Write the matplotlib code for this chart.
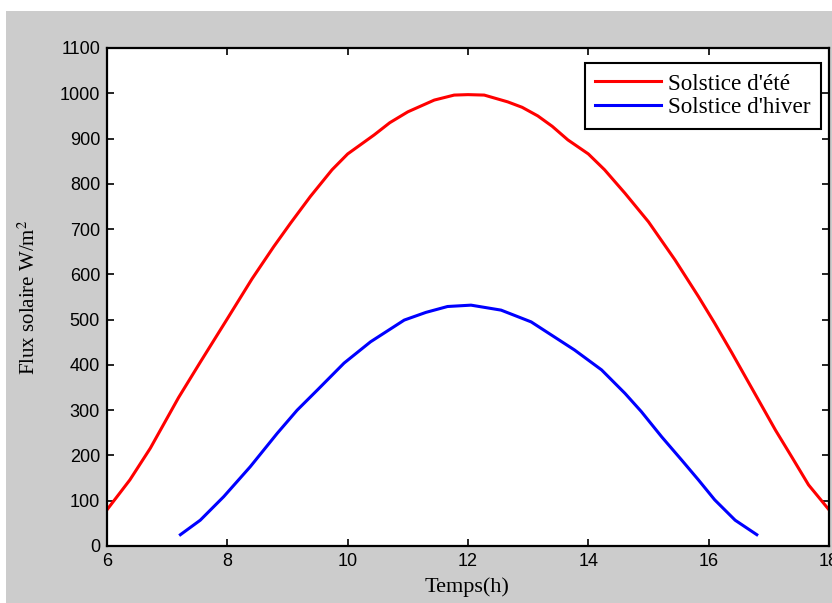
import matplotlib
matplotlib.use("Agg")
import matplotlib.pyplot as plt
from matplotlib.patches import Rectangle

# Solstice d'été (summer)
t_ete = [6.0, 6.38, 6.72, 7.19, 7.55, 8.0, 8.41, 8.77, 9.05, 9.38, 9.74, 10.0,
         10.44, 10.7, 11.0, 11.44, 11.77, 12.0, 12.27, 12.66, 12.9, 13.16, 13.4,
         13.66, 14.0, 14.27, 14.61, 15.0, 15.44, 15.83, 16.1, 16.38, 16.66, 16.83,
         17.11, 17.38, 17.66, 18.0]
flux_ete = [80, 146, 216, 328, 406, 502, 590, 661, 713, 772, 831, 866,
            908, 935, 959, 985, 996, 997, 996, 981, 969, 950, 927,
            897, 866, 831, 779, 716, 632, 551, 492, 428, 362, 322,
            256, 197, 135, 80]

# Solstice d'hiver (winter)
t_hiver = [7.22, 7.55, 7.94, 8.38, 8.83, 9.16, 9.5, 9.94, 10.38, 10.94, 11.3,
           11.66, 12.05, 12.55, 13.05, 13.77, 14.22, 14.61, 14.88, 15.22,
           15.55, 15.83, 16.1, 16.44, 16.8]
flux_hiver = [25, 57, 109, 175, 249, 300, 345, 404, 451, 499, 516,
              529, 532, 521, 495, 433, 389, 337, 297, 241,
              190, 146, 102, 57, 25]

xticks = [6, 8, 10, 12, 14, 16, 18]
yticks = list(range(0, 1101, 100))

plt.rcParams["mathtext.fontset"] = "stix"

fig = plt.figure(figsize=(8.32, 6.03), dpi=100, facecolor="white")
fig.patches.append(Rectangle((6 / 832, 0), 1, 1 - 11 / 603, transform=fig.transFigure,
                             facecolor="#cccccc", edgecolor="none", zorder=-1))

ax = fig.add_axes([107 / 832, 1 - 546 / 603, 722 / 832, 498 / 603])
ax.plot(t_ete, flux_ete, color="#ff0000", lw=2.2, label="Solstice d'été")
ax.plot(t_hiver, flux_hiver, color="#0000ff", lw=2.2, label="Solstice d'hiver")

ax.set_xlim(6, 18)
ax.set_ylim(0, 1100)
ax.set_xticks(xticks)
ax.set_yticks(yticks)
ax.tick_params(direction="in", length=5, width=1.2, top=True, right=True,
               labelsize=13, pad=5)
for lab in ax.get_xticklabels() + ax.get_yticklabels():
    lab.set_family("Liberation Sans")
for sp in ax.spines.values():
    sp.set_linewidth(1.6)

ax.set_xlabel("Temps(h)", family="Liberation Serif", fontsize=16)
ax.set_ylabel(r"Flux solaire W/m$^2$", family="Liberation Serif", fontsize=15)
ax.xaxis.set_label_coords((467 - 107) / 722, -(577 - 546) / 498)
ax.yaxis.set_label_coords(-(107 - 40) / 722, 0.5)

leg = ax.legend(loc="upper right", bbox_to_anchor=(0.9889, 0.970), borderaxespad=0,
                fancybox=False, edgecolor="black", framealpha=1,
                prop={"family": "Liberation Serif", "size": 16.7},
                handlelength=2.85, handletextpad=0.3, labelspacing=0.1,
                borderpad=0.45)
leg.get_frame().set_linewidth(1.5)

fig.savefig("out.png", dpi=100, facecolor=fig.get_facecolor())
